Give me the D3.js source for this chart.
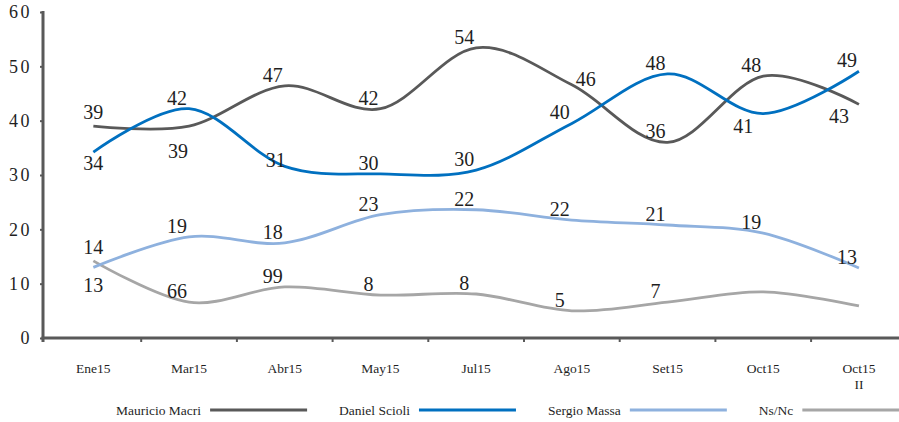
<!DOCTYPE html>
<html>
<head>
<meta charset="utf-8">
<script src="https://cdn.jsdelivr.net/npm/d3@7"></script>
<style>
  html, body { margin: 0; padding: 0; background: #ffffff; }
  svg { display: block; }
  text { font-family: "Liberation Serif", "DejaVu Serif", serif; fill: #1f1f1f; }
</style>
</head>
<body>
<svg id="chart" width="899" height="422"></svg>
<script>
// ---------------- DATA ----------------
const categories = ["Ene15", "Mar15", "Abr15", "May15", "Jul15", "Ago15", "Set15", "Oct15", "Oct15 II"];
const yTicks = [0, 10, 20, 30, 40, 50, 60];

const seriesNames = ["Mauricio Macri", "Daniel Scioli", "Sergio Massa", "Ns/Nc"];

const macri  = [39, 39, 46.4, 42.2, 53.4, 46.6, 36, 48.2, 43];
const scioli = [34.2, 42.2, 31.6, 30.2, 30.9, 39.5, 48.6, 41.3, 49.1];
const massa  = [13, 18.6, 17.5, 22.7, 23.6, 21.7, 20.8, 19.3, 12.9];
const nsnc   = [14.2, 6.6, 9.4, 7.9, 8.1, 5, 6.6, 8.5, 5.9];

// data label texts as printed on the chart
const macriLabels  = ["39", "39", "47", "42", "54", "46", "36", "48", "43"];
const scioliLabels = ["34", "42", "31", "30", "30", "40", "48", "41", "49"];
const massaLabels  = ["13", "19", "18", "23", "22", "22", "21", "19", "13"];
const nsncLabels   = ["14", "66", "99", "8", "8", "5", "7", null, null];

// label placement codes
const macriPlace  = ["A", "bb", "a", "a", "a", "r", "a", "a", "b"];
const scioliPlace = ["B", "a", "o", "a", "a", "a", "a", "b", "a"];
const massaPlace  = ["B2", "a", "a", "a", "a", "a", "a", "a", "a"];
const nsncPlace   = ["A", "a", "a", "a", "a", "a", "a", "a", "a"];

// ---------------- STYLE ----------------
const colors = ["#595959", "#0070c0", "#8eb1de", "#a6a6a6"];
const placeOffsets = {
  a: [-12, -11], b: [-20, 12], A: [0, -14], B: [0, 11], B2: [0, 18],
  bb: [-11, 25], r: [14, -6], o: [-9, -6]
};

const svg = d3.select("#chart");
const W = 899, H = 422;

const x = d3.scaleBand().domain(categories).range([45.5, 45.5 + 9 * 95.7]);
const y = d3.scaleLinear().domain([0, 60]).range([338, 12]);
const axisColor = "#595959";

// ---------- Y axis ----------
const yAxis = d3.axisLeft(y).tickValues(yTicks).tickSize(3).tickSizeOuter(0).tickPadding(8);
const gy = svg.append("g").attr("transform", "translate(43,0)").call(yAxis);
gy.select(".domain").remove();
gy.selectAll(".tick line").attr("stroke", axisColor).attr("stroke-width", 2);
gy.selectAll(".tick text")
  .style("font-family", "Liberation Serif, serif")
  .style("font-size", "18px")
  .style("letter-spacing", "2.5px")
  .attr("fill", "#1f1f1f");
gy.append("line")
  .attr("x1", 0).attr("x2", 0)
  .attr("y1", y(60) - 1).attr("y2", y(0) + 4)
  .attr("stroke", axisColor).attr("stroke-width", 3);

// ---------- X axis ----------
const gx = svg.append("g").attr("transform", `translate(0,${y(0)})`);
gx.append("line")
  .attr("x1", 41.5).attr("x2", x.range()[1])
  .attr("stroke", axisColor).attr("stroke-width", 3);
const boundaries = categories.slice(1).map(c => x(c));
gx.selectAll("line.xt").data(boundaries).enter().append("line")
  .attr("class", "xt")
  .attr("x1", d => d).attr("x2", d => d)
  .attr("y1", 0).attr("y2", 4)
  .attr("stroke", axisColor).attr("stroke-width", 2);

const xAxis = d3.axisBottom(x).tickSize(0).tickPadding(0).tickFormat("");
const gxl = svg.append("g").attr("transform", `translate(0,${y(0)})`).call(xAxis);
gxl.select(".domain").remove();
gxl.selectAll(".tick").each(function(d) {
  const t = d3.select(this).append("text")
    .attr("text-anchor", "middle")
    .style("font-size", "13.5px")
    .attr("fill", "#1f1f1f");
  const parts = d.split(" ");
  parts.forEach((p, i) => {
    t.append("tspan").attr("x", 0).attr("y", 35 + i * 16).text(p);
  });
});

// ---------- Lines ----------
const allSeries = [macri, scioli, massa, nsnc];
const allLabels = [macriLabels, scioliLabels, massaLabels, nsncLabels];
const allPlace = [macriPlace, scioliPlace, massaPlace, nsncPlace];
const cx = c => x(c) + x.bandwidth() / 2;

const line = d3.line()
  .x((d, i) => cx(categories[i]))
  .y(d => y(d))
  .curve(d3.curveCatmullRom.alpha(0));

const drawOrder = [3, 2, 0, 1];
drawOrder.forEach(s => {
  svg.append("path")
    .datum(allSeries[s])
    .attr("d", line)
    .attr("fill", "none")
    .attr("stroke", colors[s])
    .attr("stroke-width", 2.8)
    .attr("stroke-linecap", "butt");
});

// ---------- Data labels ----------
allSeries.forEach((vals, s) => {
  const items = vals.map((v, i) => ({v, i, t: allLabels[s][i], p: allPlace[s][i]}))
    .filter(d => d.t !== null);
  svg.append("g").selectAll("text").data(items).enter().append("text")
    .attr("x", d => cx(categories[d.i]) + placeOffsets[d.p][0])
    .attr("y", d => y(d.v) + placeOffsets[d.p][1])
    .attr("dy", "0.35em")
    .attr("text-anchor", "middle")
    .style("font-size", "20px")
    .attr("fill", "#1f1f1f")
    .text(d => d.t);
});

// ---------- Legend ----------
const legend = svg.append("g").attr("transform", "translate(0,410)");
let lx = 116;
seriesNames.forEach((name, s) => {
  const t = legend.append("text")
    .attr("x", lx).attr("y", 0).attr("dy", "0.35em")
    .style("font-size", "13.5px")
    .attr("fill", "#1f1f1f")
    .text(name);
  const w = t.node().getComputedTextLength();
  const l1 = lx + w + 9;
  legend.append("line")
    .attr("x1", l1).attr("x2", l1 + 97)
    .attr("y1", 0).attr("y2", 0)
    .attr("stroke", colors[s]).attr("stroke-width", 3);
  lx = l1 + 97 + 32;
});
</script>
</body>
</html>
